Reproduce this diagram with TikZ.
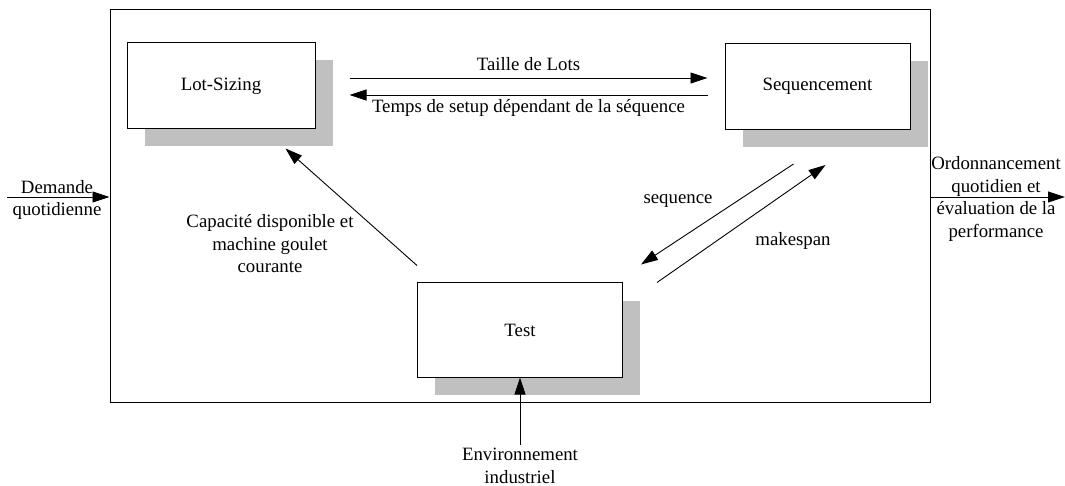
\documentclass[tikz,border=0pt]{standalone}
\usepackage{fontspec}
\setmainfont{Liberation Serif}
\usepackage{xcolor}
\usetikzlibrary{arrows.meta, positioning, calc, shadows}

\definecolor{boxshadow}{HTML}{C0C0C0}

\tikzset{
  modbox/.style={draw, line width=1pt, fill=white, minimum width=188pt, minimum height=86pt,
    drop shadow={shadow xshift=17.5pt, shadow yshift=-17.5pt, fill=boxshadow, opacity=1}},
  flow/.style={line width=0.9pt, -{Triangle[length=17pt,width=11pt]}},
  lbl/.style={align=center, inner sep=0pt}
}

\begin{document}
\begin{tikzpicture}[x=1pt, y=-1pt, font=\fontsize{18.8}{22.5}\selectfont]
\useasboundingbox (0,0) rectangle (1065,486);

% system frame
\node[draw, line width=1pt, minimum width=820pt, minimum height=392pt, inner sep=0pt] (sys) at (520,206) {};

% modules
\node[modbox] (lot) at (221,86) {Lot-Sizing};
\node[modbox, minimum width=185pt] (seq) at (817.5,86.5) {Sequencement};
\node[modbox, minimum width=205pt, minimum height=94pt] (test) at (520,330) {Test};

% lot-sizing <-> sequencement
\draw[flow] ([shift={(34,-8)}]lot.east) -- ([shift={(-17,-8.5)}]seq.west)
  node[midway, above=4pt] (taille) {Taille de Lots};
\draw[flow] ([shift={(-17,8.5)}]seq.west) -- ([shift={(34,9)}]lot.east)
  node[midway, below=1pt] (setup) {Temps de setup dépendant de la séquence};

% test -> lot-sizing
\draw[flow] ([yshift=17pt]test.north west) -- ([shift={(-30,19)}]lot.south east);
\node[lbl] (caplbl) at (270,244) {Capacité disponible et\\machine goulet\\courante};

% sequencement <-> test
\draw[flow] ([shift={(69,34)}]seq.south west) -- ([shift={(18,-18)}]test.north east);
\draw[flow] ([shift={(34,0)}]test.north east) -- ([shift={(101,35)}]seq.south west);
\node[lbl] (seqlbl) at (678,201) {sequence};
\node[lbl] (mklbl) at (793,241) {makespan};

% inputs and output
\coordinate (dem) at (7,197);
\draw[flow] (dem) -- (dem -| sys.west);
\node[lbl] (demlbl) at (57,200) {Demande\\quotidienne};

\coordinate (ord) at (1065,197);
\draw[flow] (ord -| sys.east) -- (ord);
\node[lbl] (ordlbl) at (996,199) {Ordonnancement\\quotidien et\\évaluation de la\\performance};

\coordinate (env) at (520,445);
\draw[flow] (env) -- (test.south);
\node[lbl] (envlbl) at (520,466) {Environnement\\industriel};
\end{tikzpicture}
\end{document}
